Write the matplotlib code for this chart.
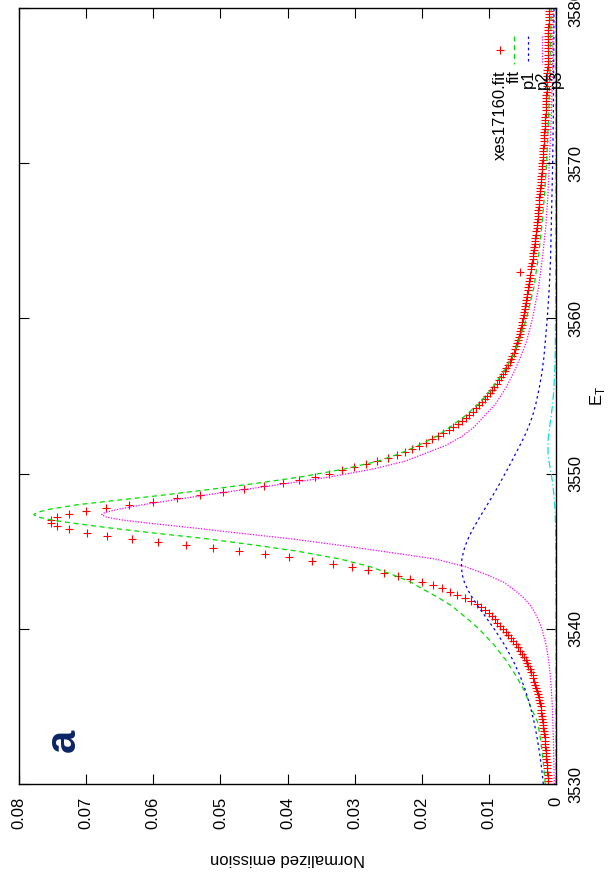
import numpy as np
import matplotlib
matplotlib.use("Agg")
import matplotlib.pyplot as plt

plt.rcParams['font.family'] = ['Liberation Sans', 'DejaVu Sans']

# measured data (xes17160.fit): energy grid 3530..3580 step 0.2
data_E = np.round(np.arange(3530.0, 3580.01, 0.2), 1)
data_v = [
    0.00120, 0.00122, 0.00124, 0.00126, 0.00128, 0.00130, 0.00134, 0.00138, 0.00142, 0.00146,
    0.00150, 0.00154, 0.00158, 0.00162, 0.00166, 0.00170, 0.00176, 0.00182, 0.00188, 0.00194,
    0.00200, 0.00206, 0.00212, 0.00218, 0.00224, 0.00230, 0.00240, 0.00250, 0.00260, 0.00270,
    0.00280, 0.00294, 0.00308, 0.00322, 0.00336, 0.00350, 0.00370, 0.00390, 0.00410, 0.00430,
    0.00450, 0.00480, 0.00510, 0.00540, 0.00570, 0.00600, 0.00638, 0.00676, 0.00714, 0.00752,
    0.00790, 0.00832, 0.00874, 0.00916, 0.00958, 0.01000, 0.01060, 0.01120, 0.01180, 0.01260,
    0.01360, 0.01470, 0.01580, 0.01700, 0.01830, 0.01990, 0.02170, 0.02350, 0.02560, 0.02800,
    0.03040, 0.03320, 0.03640, 0.03980, 0.04340, 0.04720, 0.05110, 0.05510, 0.05930, 0.06320,
    0.06690, 0.06980, 0.07250, 0.07430, 0.07520, 0.07530, 0.07430, 0.07250, 0.07000, 0.06700,
    0.06360, 0.06000, 0.05650, 0.05300, 0.04960, 0.04650, 0.04350, 0.04070, 0.03830, 0.03590,
    0.03380, 0.03190, 0.03010, 0.02830, 0.02660, 0.02500, 0.02370, 0.02250, 0.02140, 0.02040,
    0.01940, 0.01850, 0.01760, 0.01680, 0.01600, 0.01530, 0.01460, 0.01400, 0.01340, 0.01290,
    0.01240, 0.01195, 0.01150, 0.01105, 0.01065, 0.01025, 0.00990, 0.00955, 0.00920, 0.00885,
    0.00850, 0.00822, 0.00794, 0.00766, 0.00738, 0.00710, 0.00690, 0.00670, 0.00650, 0.00630,
    0.00610, 0.00596, 0.00582, 0.00568, 0.00554, 0.00540, 0.00530, 0.00520, 0.00510, 0.00500,
    0.00490, 0.00482, 0.00474, 0.00466, 0.00458, 0.00450, 0.00442, 0.00434, 0.00426, 0.00418,
    0.00410, 0.00404, 0.00398, 0.00392, 0.00386, 0.00540, 0.00374, 0.00366, 0.00358, 0.00350,
    0.00342, 0.00336, 0.00330, 0.00324, 0.00318, 0.00312, 0.00306, 0.00300, 0.00294, 0.00288,
    0.00282, 0.00278, 0.00274, 0.00270, 0.00266, 0.00262, 0.00258, 0.00254, 0.00250, 0.00246,
    0.00242, 0.00238, 0.00234, 0.00230, 0.00226, 0.00222, 0.00218, 0.00214, 0.00210, 0.00206,
    0.00202, 0.00199, 0.00196, 0.00193, 0.00190, 0.00187, 0.00184, 0.00181, 0.00178, 0.00175,
    0.00172, 0.00169, 0.00166, 0.00163, 0.00160, 0.00157, 0.00155, 0.00153, 0.00151, 0.00149,
    0.00147, 0.00145, 0.00143, 0.00141, 0.00139, 0.00137, 0.00135, 0.00133, 0.00131, 0.00129,
    0.00127, 0.00125, 0.00124, 0.00123, 0.00122, 0.00121, 0.00120, 0.00119, 0.00118, 0.00117,
    0.00116, 0.00115, 0.00114, 0.00113, 0.00112, 0.00111, 0.00110, 0.00109, 0.00108, 0.00107,
    0.00106,
]

# fitted curves, sampled on a common energy grid
fit_E = [3530, 3531, 3532, 3533, 3534, 3535, 3536, 3537, 3538, 3539,
         3540, 3540.5, 3541, 3541.5, 3542, 3542.5, 3543, 3543.5, 3544, 3544.5,
         3545, 3545.4, 3545.8, 3546.2, 3546.5, 3546.8, 3547.0, 3547.2, 3547.35, 3547.5,
         3547.7, 3548.0, 3548.3, 3548.6, 3549.0, 3549.4, 3549.8, 3550.3, 3550.8, 3551.3,
         3551.8, 3552.4, 3553, 3553.7, 3554.5, 3555.5, 3556.5, 3557.5, 3558.5, 3560,
         3562, 3564, 3566, 3568, 3570, 3573, 3576, 3580]
fit_v = [0.00160, 0.00180, 0.00205, 0.00235, 0.00275, 0.00380, 0.00470, 0.00600, 0.00750, 0.00930,
         0.01150, 0.01280, 0.01420, 0.01560, 0.01750, 0.01960, 0.02160, 0.02440, 0.02770, 0.03220,
         0.03850, 0.04500, 0.05200, 0.06050, 0.06650, 0.07180, 0.07500, 0.07720, 0.07780, 0.07730,
         0.07550, 0.07120, 0.06500, 0.05880, 0.05120, 0.04420, 0.03780, 0.03150, 0.02650, 0.02320,
         0.02060, 0.01780, 0.01580, 0.01360, 0.01150, 0.00950, 0.00790, 0.00650, 0.00560, 0.00440,
         0.00330, 0.00260, 0.00210, 0.00170, 0.00140, 0.00110, 0.00090, 0.00070]
p1_v = [0.00189, 0.00214, 0.00245, 0.00282, 0.00327, 0.00383, 0.00453, 0.00538, 0.00644, 0.00772,
        0.00922, 0.01004, 0.01087, 0.01169, 0.01246, 0.01312, 0.01365, 0.01398, 0.01410, 0.01402,
        0.01377, 0.01347, 0.01310, 0.01265, 0.01228, 0.01189, 0.01162, 0.01135, 0.01114, 0.01093,
        0.01065, 0.01023, 0.00981, 0.00940, 0.00886, 0.00834, 0.00785, 0.00720, 0.00660, 0.00600,
        0.00540, 0.00470, 0.00410, 0.00350, 0.00300, 0.00250, 0.00210, 0.00180, 0.00160, 0.00130,
        0.00100, 0.00080, 0.00070, 0.00060, 0.00050, 0.00040, 0.00035, 0.00030]
p2_v = [0.00025, 0.00030, 0.00035, 0.00040, 0.00047, 0.00055, 0.00068, 0.00085, 0.00110, 0.00150,
        0.00210, 0.00255, 0.00310, 0.00380, 0.00480, 0.00620, 0.00780, 0.01040, 0.01350, 0.01800,
        0.02600, 0.03250, 0.03950, 0.04800, 0.05400, 0.06050, 0.06450, 0.06700, 0.06770, 0.06720,
        0.06520, 0.06150, 0.05700, 0.05250, 0.04600, 0.03950, 0.03350, 0.02720, 0.02250, 0.01950,
        0.01650, 0.01400, 0.01220, 0.01070, 0.00900, 0.00750, 0.00630, 0.00530, 0.00440, 0.00350,
        0.00260, 0.00200, 0.00150, 0.00120, 0.00100, 0.00070, 0.00050, 0.00040]
p3_v = [0.00001] * 20 + [
        0.00002, 0.00003, 0.00004, 0.00005, 0.00006, 0.00008, 0.00010, 0.00011, 0.00012, 0.00014,
        0.00016, 0.00020, 0.00025, 0.00030, 0.00040, 0.00050, 0.00065, 0.00085, 0.00105, 0.00118,
        0.00120, 0.00113, 0.00095, 0.00072, 0.00050, 0.00030, 0.00020, 0.00013, 0.00010, 0.00006,
        0.00004, 0.00003, 0.00002, 0.00002, 0.00002, 0.00001, 0.00001, 0.00001]

emission_ticks = [0, 0.01, 0.02, 0.03, 0.04, 0.05, 0.06, 0.07, 0.08]
emission_labels = ['0', '0.01', '0.02', '0.03', '0.04', '0.05', '0.06', '0.07', '0.08']
energy_ticks = [3530, 3540, 3550, 3560, 3570, 3580]

labels = ['xes17160.fit', 'fit', 'p1', 'p2', 'p3']

# the whole gnuplot page is turned 90 degrees: energy runs up, emission runs left
fig = plt.figure(figsize=(6.10, 8.88), dpi=100)
ax = fig.add_axes([19 / 610, 104 / 888, 537 / 610, 776 / 888])

ax.plot(data_v, data_E, linestyle='none', marker='+', color='#ff0000',
        ms=6, mew=0.8)
ax.plot(fit_v, fit_E, color='#00dd00', lw=0.9, dashes=(4, 3))
ax.plot(p1_v, fit_E, color='#0000ff', lw=0.9, dashes=(2, 2.5))
ax.plot(p2_v, fit_E, color='#ff00ff', lw=0.9, dashes=(1, 1.2))
ax.plot(p3_v, fit_E, color='#00e5e5', lw=0.9, dashes=(6, 2, 1, 2))

ax.set_xlim(0.08, 0)
ax.set_ylim(3530, 3580)

ax.set_xticks(emission_ticks, emission_labels)
ax.set_yticks(energy_ticks, [str(t) for t in energy_ticks])
ax.tick_params(axis='both', direction='in', length=7, width=0.8,
               labelsize=12, pad=9)
ax.tick_params(axis='x', top=True, bottom=True, labelrotation=90)
ax.tick_params(axis='y', left=True, right=True, labelleft=False,
               labelright=True, labelrotation=90)
for lab in ax.get_yticklabels():
    lab.set_va('center')
for s in ax.spines.values():
    s.set_linewidth(1.0)

ax.set_xlabel('Normalized emission', fontsize=12, rotation=180, labelpad=16)
ax.yaxis.set_label_position('right')
ax.set_ylabel('E$_{\\mathregular{T}}$', fontsize=12, rotation=90, labelpad=3)

# panel letter
ax.text(0.0734, 3532.8, 'a', fontsize=30, fontweight='bold', color='#0b2464',
        rotation=90, ha='center', va='center')

# key, drawn by hand since its text is turned too
styles = [
    dict(linestyle='none', marker='+', color='#ff0000', ms=6, mew=0.8),
    dict(color='#00dd00', lw=0.9, dashes=(4, 3)),
    dict(color='#0000ff', lw=0.9, dashes=(2, 2.5)),
    dict(color='#ff00ff', lw=0.9, dashes=(1, 1.2)),
    dict(color='#00e5e5', lw=0.9, dashes=(6, 2, 1, 2)),
]
key_x = [500, 514, 528, 542, 556]
for lab, st, px in zip(labels, styles, key_x):
    xf = (px - 19) / 537
    if st.get('marker'):
        ax.plot([xf], [1 - 42 / 776], transform=ax.transAxes, clip_on=False, **st)
    else:
        ax.plot([xf, xf], [1 - 28 / 776, 1 - 56 / 776], transform=ax.transAxes,
                clip_on=False, **st)
    ax.text(xf, 1 - 62 / 776, lab, transform=ax.transAxes, rotation=90,
            ha='center', va='top', fontsize=12)

fig.savefig('out.png', dpi=100)
